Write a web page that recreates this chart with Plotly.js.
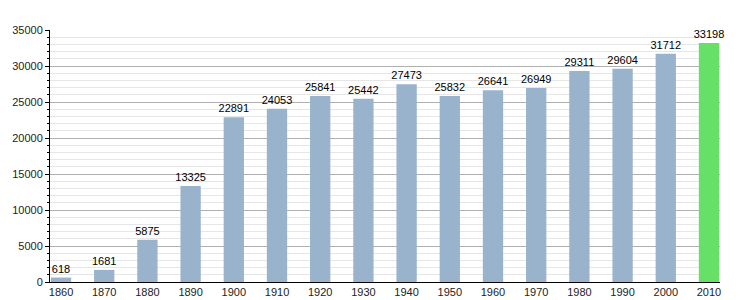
<!DOCTYPE html>
<html>
<head>
<meta charset="utf-8">
<script src="https://cdn.plot.ly/plotly-3.0.1.min.js"></script>
<style>html,body{margin:0;padding:0;background:#fff;}#chart{width:750px;height:300px;}</style>
</head>
<body>
<div id="chart"></div>
<script>
const years = ['1860','1870','1880','1890','1900','1910','1920','1930','1940','1950','1960','1970','1980','1990','2000','2010'];
const population = [618,1681,5875,13325,22891,24053,25841,25442,27473,25832,26641,26949,29311,29604,31712,33198];
const yTicks = [0,5000,10000,15000,20000,25000,30000,35000];

const colors = years.map(y => y === '2010' ? '#66e066' : '#99b3cc');

const trace = {
  type: 'bar',
  x: years,
  y: population,
  text: population.map(String),
  textposition: 'outside',
  constraintext: 'none',
  cliponaxis: false,
  textfont: {family: 'Liberation Sans, Arial, sans-serif', size: 11, color: '#000'},
  outsidetextfont: {family: 'Liberation Sans, Arial, sans-serif', size: 11, color: '#000'},
  marker: {color: colors, line: {width: 0}},
  width: 0.47,
  hoverinfo: 'x+y'
};

const layout = {
  width: 750, height: 300,
  margin: {l: 50, r: 30, t: 30, b: 18, pad: 0},
  paper_bgcolor: '#fff', plot_bgcolor: '#fff',
  showlegend: false,
  font: {family: 'Liberation Sans, Arial, sans-serif', size: 11, color: '#222'},
  xaxis: {
    type: 'category',
    range: [-0.255, 15.255],
    showline: true, linecolor: '#000', linewidth: 1,
    ticks: '', showgrid: false, zeroline: false,
    tickfont: {size: 11, color: '#222'}
  },
  yaxis: {
    range: [0, 35000],
    tickvals: yTicks,
    ticktext: yTicks.map(String),
    showline: true, linecolor: '#000', linewidth: 1,
    ticks: 'outside', ticklen: 4, tickcolor: '#000', tickwidth: 1,
    showgrid: true, gridcolor: '#b0b0b0', gridwidth: 1,
    zeroline: false,
    minor: {dtick: 1000, ticks: 'outside', ticklen: 2, tickcolor: '#000', showgrid: true, gridcolor: '#e6e6e6', gridwidth: 1},
    tickfont: {size: 11, color: '#222'}
  },
  bargap: 0.5
};

Plotly.newPlot('chart', [trace], layout, {displayModeBar: false, staticPlot: true});
</script>
</body>
</html>
